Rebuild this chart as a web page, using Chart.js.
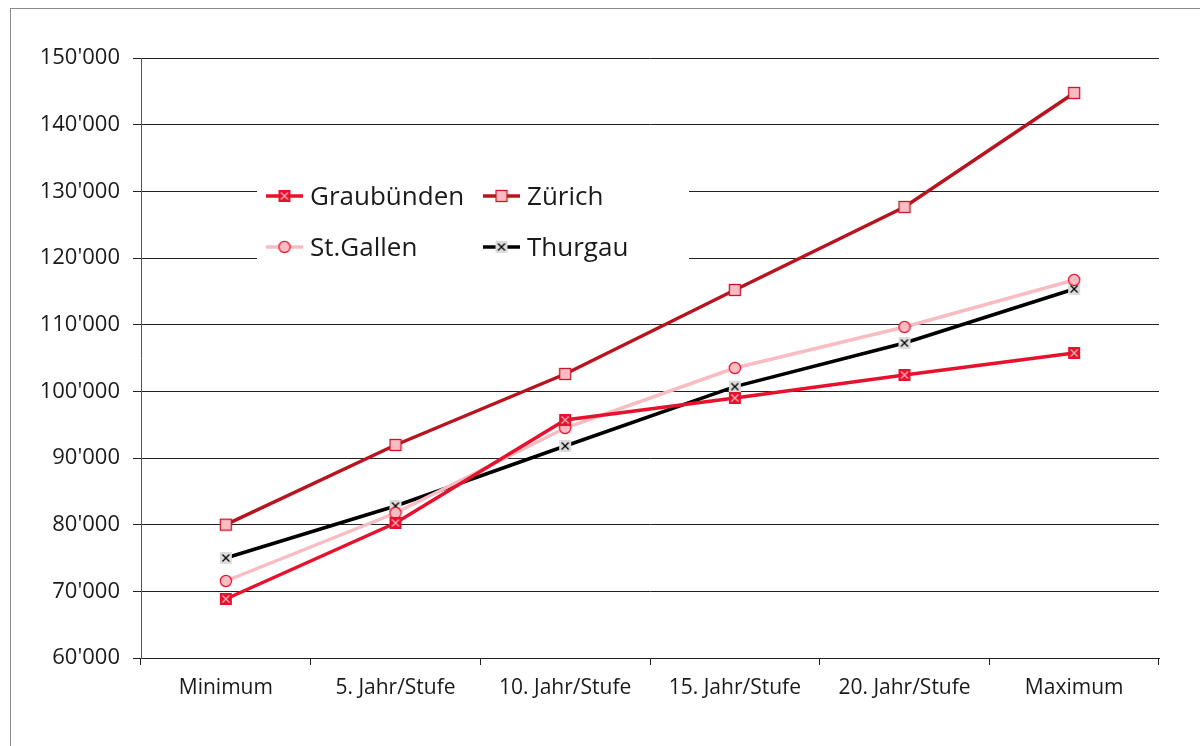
<!DOCTYPE html>
<html>
<head>
<meta charset="utf-8">
<script src="https://cdn.jsdelivr.net/npm/chart.js@4/dist/chart.umd.min.js"></script>
<style>
  html, body { margin: 0; padding: 0; background: #fff; }
  #wrap { width: 1200px; height: 746px; position: relative; }
</style>
</head>
<body>
<div id="wrap"><canvas id="chart" width="1200" height="746"></canvas></div>
<script>
const categories = ['Minimum', '5. Jahr/Stufe', '10. Jahr/Stufe', '15. Jahr/Stufe', '20. Jahr/Stufe', 'Maximum'];
const graubuenden = [68850, 80250, 95700, 99000, 102450, 105750];
const zuerich = [80000, 91950, 102600, 115200, 127650, 144750];
const stGallen = [71550, 81750, 94500, 103500, 109650, 116700];
const thurgau = [75000, 82800, 91800, 100700, 107250, 115350];
const yTicks = [60000, 70000, 80000, 90000, 100000, 110000, 120000, 130000, 140000, 150000];

const FONT = "'Open Sans', 'Noto Sans', sans-serif";

function marker(kind) {
  const c = document.createElement('canvas');
  c.width = 14; c.height = 14;
  const g = c.getContext('2d');
  if (kind === 'redX') {
    g.fillStyle = '#E8112D';
    g.fillRect(1, 1, 12, 12);
    g.strokeStyle = '#F7B0B8';
    g.lineWidth = 1.3;
    g.beginPath(); g.moveTo(3.5, 3.5); g.lineTo(10.5, 10.5); g.moveTo(10.5, 3.5); g.lineTo(3.5, 10.5); g.stroke();
  } else if (kind === 'pinkSquare') {
    g.fillStyle = '#F9BCC3';
    g.fillRect(1.5, 1.5, 11, 11);
    g.strokeStyle = '#C8162A';
    g.lineWidth = 1.3;
    g.strokeRect(1.5, 1.5, 11, 11);
  } else if (kind === 'circle') {
    g.fillStyle = '#F9BCC3';
    g.strokeStyle = '#E8112D';
    g.lineWidth = 1.3;
    g.beginPath(); g.arc(7, 7, 5.6, 0, Math.PI * 2); g.fill(); g.stroke();
  } else {
    g.fillStyle = '#DCDCDC';
    g.fillRect(1, 1, 12, 12);
    g.strokeStyle = '#000';
    g.lineWidth = 1.3;
    g.beginPath(); g.moveTo(3.5, 3.5); g.lineTo(10.5, 10.5); g.moveTo(10.5, 3.5); g.lineTo(3.5, 10.5); g.stroke();
  }
  return c;
}

const series = [
  { label: 'Graubünden', data: graubuenden, color: '#E8112D', mk: marker('redX') },
  { label: 'Zürich', data: zuerich, color: '#B8141F', mk: marker('pinkSquare') },
  { label: 'St.Gallen', data: stGallen, color: '#F8BCC2', mk: marker('circle') },
  { label: 'Thurgau', data: thurgau, color: '#000000', mk: marker('blackX') }
];

// legend box drawn inside the plot, over the gridlines
const insideLegend = {
  id: 'insideLegend',
  afterDatasetsDraw(chart) {
    const ctx = chart.ctx;
    ctx.save();
    ctx.fillStyle = '#fff';
    ctx.fillRect(257, 170, 432, 104);
    const pos = [[266, 196], [483, 196], [266, 247], [483, 247]];
    ctx.font = '26px ' + FONT;
    ctx.textBaseline = 'middle';
    series.forEach((s, i) => {
      const [x, y] = pos[i];
      ctx.strokeStyle = s.color;
      ctx.lineWidth = 3.5;
      ctx.beginPath(); ctx.moveTo(x, y); ctx.lineTo(x + 37, y); ctx.stroke();
      ctx.drawImage(s.mk, x + 18.5 - 7, y - 7);
      ctx.fillStyle = '#1a1a1a';
      ctx.fillText(s.label, x + 44, y + 2);
    });
    ctx.restore();
  },
  beforeDraw(chart) {
    const ctx = chart.ctx;
    ctx.save();
    ctx.strokeStyle = '#8a8a8a';
    ctx.lineWidth = 1;
    ctx.strokeRect(10.5, 8.5, 1200, 800);
    ctx.restore();
  }
};

new Chart(document.getElementById('chart'), {
  type: 'line',
  data: {
    labels: categories,
    datasets: series.map(s => ({
      label: s.label,
      data: s.data,
      borderColor: s.color,
      backgroundColor: s.color,
      borderWidth: 3.5,
      pointStyle: s.mk,
      pointRadius: 7,
      tension: 0
    }))
  },
  options: {
    responsive: false,
    animation: false,
    layout: { padding: { left: 0, top: 58, right: 41, bottom: 0 } },
    scales: {
      x: {
        offset: true,
        grid: { offset: true, drawOnChartArea: false, color: '#222', tickLength: 7 },
        border: { color: '#222' },
        ticks: { color: '#1a1a1a', font: { family: FONT, size: 21 }, padding: 10, maxRotation: 0 },
        afterFit(scale) { scale.height = 88; }
      },
      y: {
        min: 60000,
        max: 150000,
        afterBuildTicks(scale) { scale.ticks = yTicks.map(v => ({ value: v })); },
        grid: { color: '#222', tickLength: 8 },
        border: { color: '#555' },
        ticks: {
          color: '#1a1a1a',
          font: { family: FONT, size: 22 },
          padding: 13,
          callback: v => String(v).replace(/\B(?=(\d{3})+(?!\d))/g, "'")
        },
        afterFit(scale) { scale.width = 141; }
      }
    },
    plugins: {
      legend: { display: false },
      tooltip: { enabled: false }
    }
  },
  plugins: [insideLegend]
});
</script>
</body>
</html>
